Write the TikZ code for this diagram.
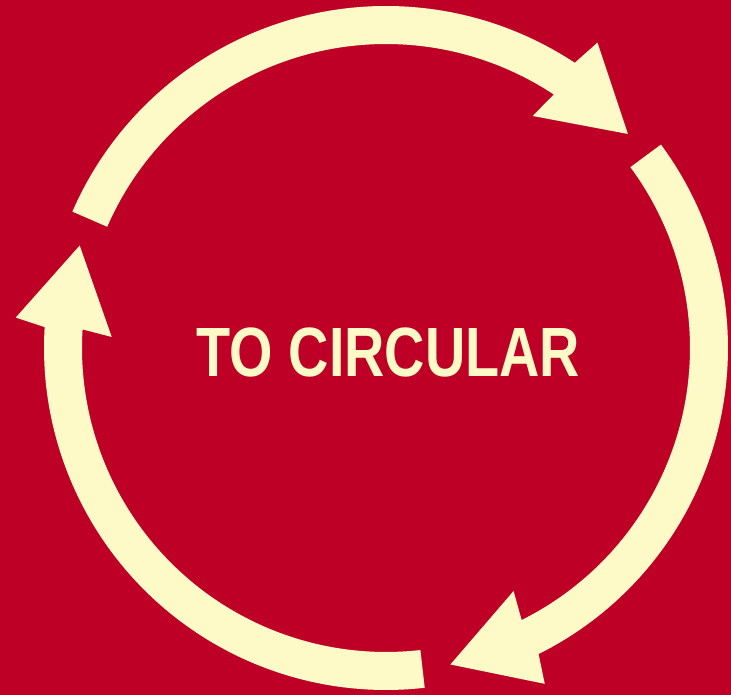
\documentclass[tikz,border=0pt]{standalone}
\usepackage{fontspec}
\usepackage{xcolor}
\usepackage{tikz}
\usetikzlibrary{calc,positioning}

\newfontfamily\titlefont{Liberation Sans}[FakeStretch=0.8]

\definecolor{bgred}{RGB}{190,0,39}
\definecolor{cream}{RGB}{253,250,199}

\begin{document}
\begin{tikzpicture}[x=0.02cm, y=0.02cm]

% ---------------- 1. BACKGROUND ----------------
\fill[bgred] (0,0) rectangle (731,695);
\useasboundingbox (0,0) rectangle (731,695);

% ---------------- 2. CIRCULAR ARROWS ----------------
% ring centre, ring radii 304/342, head tip on radius 323
\coordinate (C) at (386,347);

\begin{scope}[shift={(C)}]
% Top arrow (left -> right)
\fill[cream] (156.5:342) arc[start angle=156.5, end angle=56.5, radius=342]
  -- (55.3:371.5) -- (41.5:323) -- (57.7:274.5)
  -- (56.5:304) arc[start angle=56.5, end angle=156.5, radius=304] -- cycle;

% Right arrow (top -> bottom)
\fill[cream] (36.5:342) arc[start angle=36.5, end angle=-63.5, radius=342]
  -- (-64.7:371.5) -- (-78.5:323) -- (-62.3:274.5)
  -- (-63.5:304) arc[start angle=-63.5, end angle=36.5, radius=304] -- cycle;

% Left arrow (bottom -> top)
\fill[cream] (-83.5:342) arc[start angle=-83.5, end angle=-183.5, radius=342]
  -- (-184.7:371.5) -- (-198.5:323) -- (-182.3:274.5)
  -- (-183.5:304) arc[start angle=-183.5, end angle=-83.5, radius=304] -- cycle;
\end{scope}

% ---------------- 3. TITLE ----------------
\node[text=cream, font=\titlefont\bfseries\fontsize{39.7}{44}\selectfont, inner sep=0pt]
  (title) at ($(C)+(2.5,-5)$) {TO CIRCULAR};

\end{tikzpicture}
\end{document}
